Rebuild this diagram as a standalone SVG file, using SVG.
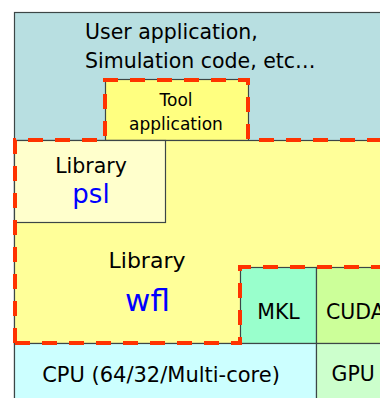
<svg xmlns="http://www.w3.org/2000/svg" width="380" height="398" viewBox="0 0 380 398">
<style>
.box{stroke:#3c4646;stroke-width:1.2}
.t{font-family:"DejaVu Sans","Liberation Sans",sans-serif;fill:#000;text-anchor:middle}
.b{font-family:"DejaVu Sans","Liberation Sans",sans-serif;fill:#0000ff;text-anchor:middle}
.dash{fill:none;stroke:#ff3300;stroke-width:4;stroke-dasharray:15 12}
</style>
<rect width="380" height="398" fill="#ffffff"/>
<g id="user-application">
<rect class="box" x="14.5" y="12.5" width="380" height="400" fill="#b8dfe1" stroke="#6a7878"/>
<text class="t" x="85" y="39" font-size="20.5" text-anchor="start" style="text-anchor:start">User application,</text>
<text class="t" x="85" y="68" font-size="20.5" style="text-anchor:start">Simulation code, etc…</text>
</g>
<g id="tool-application">
<rect class="box" x="105.5" y="79.5" width="143" height="61" fill="#ffff80"/>
<text class="t" x="176" y="106" font-size="17">Tool</text>
<text class="t" x="176" y="130" font-size="17">application</text>
</g>
<g id="library-wfl">
<rect class="box" x="14.5" y="140.5" width="380" height="203" fill="#ffff99"/>
<text class="t" x="147" y="268" font-size="22">Library</text>
<text class="b" x="147.5" y="311" font-size="31">wfl</text>
</g>
<g id="library-psl">
<rect class="box" x="14.5" y="140.5" width="151" height="82" fill="#ffffcc"/>
<text class="t" x="91" y="172.5" font-size="20.5">Library</text>
<text class="b" x="91" y="203" font-size="26">psl</text>
</g>
<g id="mkl">
<rect class="box" x="240.5" y="267.5" width="76" height="76" fill="#99ffcc"/>
<text class="t" x="278.5" y="319" font-size="20.5">MKL</text>
</g>
<g id="cuda">
<rect class="box" x="316.5" y="267.5" width="80" height="76" fill="#ccff99"/>
<text class="t" x="326" y="319" font-size="20.5" style="text-anchor:start">CUDA</text>
</g>
<g id="cpu">
<rect class="box" x="14.5" y="343.5" width="302" height="60" fill="#ccffff"/>
<text class="t" x="161" y="381.5" font-size="21">CPU (64/32/Multi-core)</text>
</g>
<g id="gpu">
<rect class="box" x="316.5" y="343.5" width="80" height="60" fill="#ccffcc"/>
<text class="t" x="331.5" y="381" font-size="20.5" style="text-anchor:start">GPU</text>
</g>
<g id="dashed-outline">
<path class="dash" d="M15,343 L15,140 L105,140 L105,80 L248,80 L248,140 L385,140"/>
<path class="dash" d="M15,343 L240,343 L240,267 L385,267"/>
</g>
</svg>
